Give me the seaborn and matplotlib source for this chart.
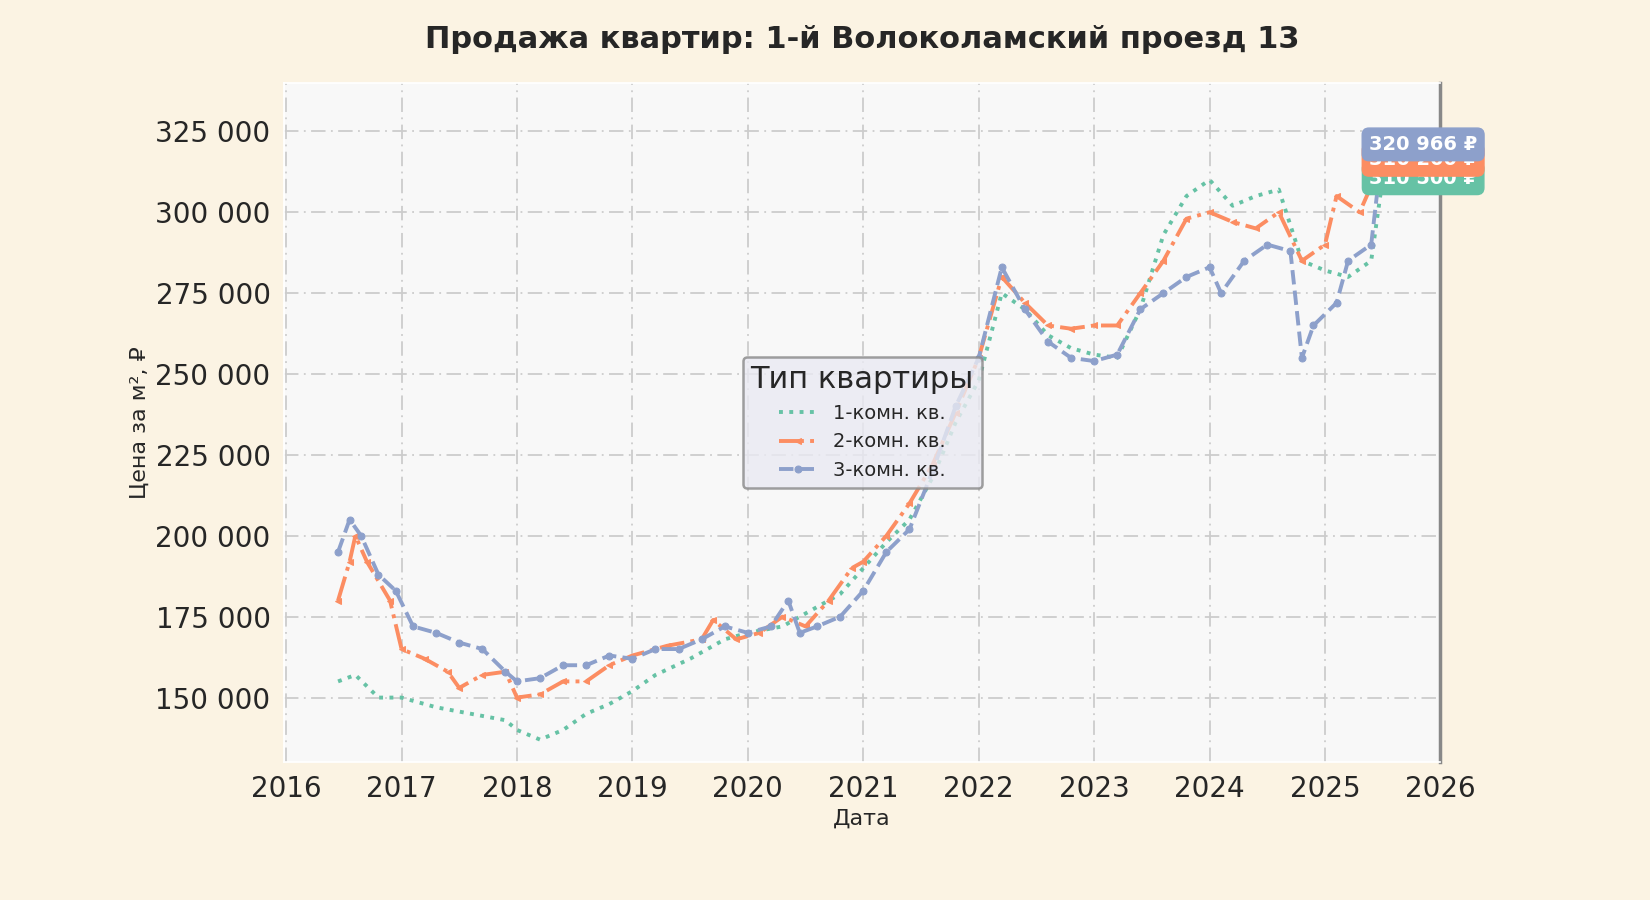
import matplotlib
matplotlib.use("Agg")
import matplotlib.pyplot as plt
import seaborn as sns
import pandas as pd

x1 = [2016.45,2016.6,2016.8,2017.0,2017.3,2017.6,2017.9,2018.0,2018.2,2018.4,2018.6,2018.8,2019.0,2019.2,2019.5,2019.8,2020.0,2020.3,2020.5,2020.8,2021.0,2021.2,2021.4,2021.6,2021.8,2022.0,2022.2,2022.4,2022.6,2022.8,2023.0,2023.2,2023.4,2023.6,2023.8,2024.0,2024.2,2024.4,2024.6,2024.8,2025.0,2025.2,2025.4,2025.5]
y1 = [155,157,150,150,147,145,143,140,137,140,145,148,152,157,162,168,170,172,176,182,190,198,205,218,235,248,275,270,262,258,256,255,270,293,305,310,302,305,307,285,282,280,285,310.5]
x2 = [2016.45,2016.55,2016.6,2016.7,2016.9,2017.0,2017.2,2017.4,2017.5,2017.7,2017.9,2018.0,2018.2,2018.4,2018.6,2018.8,2019.0,2019.3,2019.6,2019.7,2019.9,2020.1,2020.3,2020.5,2020.7,2020.9,2021.0,2021.2,2021.4,2021.6,2021.8,2022.0,2022.2,2022.4,2022.6,2022.8,2023.0,2023.2,2023.4,2023.6,2023.8,2024.0,2024.2,2024.4,2024.6,2024.8,2025.0,2025.1,2025.3,2025.5]
y2 = [180,192,200,192,180,165,162,158,153,157,158,150,151,155,155,160,163,166,168,174,168,170,175,172,180,190,192,200,210,222,238,255,280,272,265,264,265,265,275,285,298,300,297,295,300,285,290,305,300,316.2]
x3 = [2016.45,2016.55,2016.65,2016.8,2016.95,2017.1,2017.3,2017.5,2017.7,2017.9,2018.0,2018.2,2018.4,2018.6,2018.8,2019.0,2019.2,2019.4,2019.6,2019.8,2020.0,2020.2,2020.35,2020.45,2020.6,2020.8,2021.0,2021.2,2021.4,2021.6,2021.8,2022.0,2022.2,2022.4,2022.6,2022.8,2023.0,2023.2,2023.4,2023.6,2023.8,2024.0,2024.1,2024.3,2024.5,2024.7,2024.8,2024.9,2025.1,2025.2,2025.4,2025.5]
y3 = [195,205,200,188,183,172,170,167,165,158,155,156,160,160,163,162,165,165,168,172,170,172,180,170,172,175,183,195,202,220,240,255,283,270,260,255,254,256,270,275,280,283,275,285,290,288,255,265,272,285,290,320.966]
names = ["1-комн. кв.", "2-комн. кв.", "3-комн. кв."]

rows = []
for n, xs, ys in zip(names, [x1, x2, x3], [y1, y2, y3]):
    for a, b in zip(xs, ys):
        rows.append((n, a, b * 1000))
df = pd.DataFrame(rows, columns=["type", "date", "price"])

sns.set_theme(style="whitegrid")
plt.rcParams['font.family'] = ['DejaVu Sans']
pal = sns.color_palette("Set2", 3)
fig, ax = plt.subplots(figsize=(16.5, 9), dpi=100)
fig.patch.set_facecolor("#fbf3e3")
ax.set_facecolor("#f8f8f8")
styles = [(":", None), ("-.", "<"), ("--", "o")]
for (n, (ls, mk)), c in zip(zip(names, styles), pal):
    d = df[df.type == n]
    kw = dict(marker=mk, markersize=5, markeredgecolor=c, markerfacecolor=c) if mk else {}
    sns.lineplot(data=d, x="date", y="price", ax=ax, color=c, linestyle=ls,
                 linewidth=2.8, label=n, **kw)
for ys, c in zip([y1, y2, y3], pal):
    v = ys[-1] * 1000
    ax.text(2025.85, v, f"{v:,.0f} ₽".replace(",", " "), ha="center", va="center",
            fontsize=14, fontweight="bold", color="white",
            bbox=dict(boxstyle="round,pad=0.35", fc=c, ec=c))
ax.set_xlim(2015.98, 2026)
ax.set_ylim(130000, 340000)
ax.set_xticks(range(2016, 2027))
ax.set_xticklabels([str(y) for y in range(2016, 2027)], fontsize=20)
ax.set_yticks(range(150000, 330000, 25000))
ax.set_yticklabels([f"{v:,}".replace(",", " ") for v in range(150000, 330000, 25000)], fontsize=20)
ax.grid(True, linestyle=(0, (8, 3, 1, 3)), color="#cccccc", linewidth=1.3)
for s in ["left", "bottom", "top"]:
    ax.spines[s].set_color("white")
ax.spines["right"].set_visible(True)
ax.spines["right"].set_color("#888888")
ax.spines["right"].set_linewidth(2.5)
ax.set_xlabel("Дата", fontsize=16)
ax.set_ylabel("Цена за м², ₽", fontsize=16)
ax.set_title("Продажа квартир: 1-й Волоколамский проезд 13", fontsize=22,
             fontweight="bold", pad=25)
leg = ax.legend(title="Тип квартиры", loc="center", fontsize=14, title_fontsize=22,
                frameon=True, facecolor="#eaeaf2", edgecolor="#888888")
leg.get_frame().set_linewidth(1.8)
fig.subplots_adjust(left=0.172, right=0.873, top=0.908, bottom=0.153)
fig.savefig("out.png")
